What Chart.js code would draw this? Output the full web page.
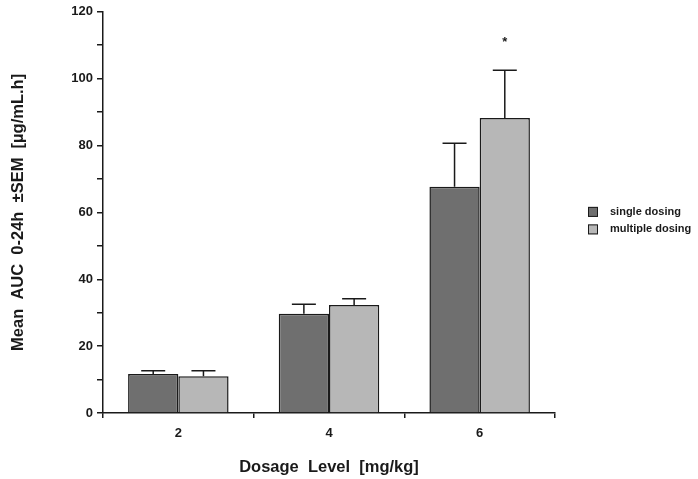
<!DOCTYPE html>
<html>
<head>
<meta charset="utf-8">
<script src="https://cdn.jsdelivr.net/npm/chart.js@4"></script>
<style>
  html, body { margin: 0; padding: 0; background: #fff; }
  #wrap { width: 698px; height: 479px; }
</style>
</head>
<body>
<div id="wrap"><canvas id="chart"></canvas></div>
<script>
// dosage levels on the x axis:
const dosages = ['2', '4', '6'];

// mean AUC 0-24h for each dosing regimen:
const singleMean = [11.7, 29.7, 67.7];
const multipleMean = [11.0, 32.3, 88.2];

// standard error of the mean, drawn as one-sided bars:
const singleSem = [0.9, 2.8, 13.0];
const multipleSem = [1.6, 1.9, 14.3];

// significance marks above the multiple-dosing bars:
const multipleMarks = ['', '', '*'];

const fontFamily = "'Liberation Sans', Arial, Helvetica, sans-serif";
const ink = '#1a1a1a';

// draws the error bars and the significance star:
const errorBars = {
  id: 'errorBars',
  afterDatasetsDraw(chart) {
    const ctx = chart.ctx;
    const yScale = chart.scales.y;
    const sems = [singleSem, multipleSem];
    ctx.save();
    ctx.strokeStyle = ink;
    ctx.lineWidth = 1.5;
    chart.data.datasets.forEach((ds, i) => {
      const meta = chart.getDatasetMeta(i);
      meta.data.forEach((bar, j) => {
        const top = yScale.getPixelForValue(ds.data[j] + sems[i][j]);
        ctx.beginPath();
        ctx.moveTo(bar.x, bar.y);
        ctx.lineTo(bar.x, top);
        ctx.moveTo(bar.x - 12, top);
        ctx.lineTo(bar.x + 12, top);
        ctx.stroke();
        // the star over the 6 mg/kg multiple dose:
        if (i === 1 && multipleMarks[j]) {
          ctx.fillStyle = ink;
          ctx.font = 'bold 13px ' + fontFamily;
          ctx.textAlign = 'center';
          ctx.textBaseline = 'middle';
          ctx.fillText(multipleMarks[j], bar.x, top - 28);
        }
      });
    });
    ctx.restore();
  }
};

// legend to the right of the plot, with square swatches:
const sideLegend = {
  id: 'sideLegend',
  afterDraw(chart) {
    const ctx = chart.ctx;
    const area = chart.chartArea;
    const x = area.right + 33;
    let y = (area.top + area.bottom) / 2 - 0.5;
    ctx.save();
    ctx.font = 'bold 11px ' + fontFamily;
    ctx.textBaseline = 'middle';
    chart.data.datasets.forEach((ds) => {
      ctx.fillStyle = ds.backgroundColor;
      ctx.fillRect(x, y - 5, 10, 10);
      ctx.strokeStyle = ink;
      ctx.lineWidth = 1;
      ctx.strokeRect(x + 0.5, y - 4.5, 9, 9);
      ctx.fillStyle = ink;
      ctx.fillText(ds.label, x + 22, y);
      y += 17.5;
    });
    ctx.restore();
  }
};

const data = {
  labels: dosages,
  datasets: [{
    label: 'single dosing',
    data: singleMean,
    backgroundColor: '#6f6f6f',
    borderColor: ink,
    borderWidth: 1.5
  }, {
    label: 'multiple dosing',
    data: multipleMean,
    backgroundColor: '#b7b7b7',
    borderColor: ink,
    borderWidth: 1.5
  }]
};

const config = {
  type: 'bar',
  data: data,
  plugins: [errorBars, sideLegend],
  options: {
    responsive: true,
    maintainAspectRatio: false,
    animation: false,
    devicePixelRatio: 1,
    layout: {
      padding: { left: 0, right: 143, top: 9, bottom: 0 }
    },
    datasets: {
      bar: {
        categoryPercentage: 0.667,
        barPercentage: 1.0
      }
    },
    plugins: {
      legend: { display: false },
      tooltip: { enabled: false }
    },
    scales: {
      x: {
        afterFit(scale) { scale.height = 66; },
        grid: {
          offset: true,
          drawOnChartArea: false,
          tickLength: 5,
          color: ink,
          lineWidth: 1.5
        },
        border: { color: ink, width: 1.5 },
        ticks: {
          padding: 8,
          color: ink,
          font: { family: fontFamily, size: 13, weight: 'bold' }
        },
        title: {
          display: true,
          text: 'Dosage  Level  [mg/kg]',
          color: ink,
          padding: { top: 0, bottom: 2 },
          font: { family: fontFamily, size: 16.5, weight: 'bold' }
        }
      },
      y: {
        min: 0,
        max: 120,
        afterFit(scale) { scale.width = 103; },
        grid: {
          drawOnChartArea: false,
          tickLength: 6,
          color: ink,
          lineWidth: 1.5
        },
        border: { color: ink, width: 1.5 },
        ticks: {
          stepSize: 10,
          padding: 4,
          color: ink,
          font: { family: fontFamily, size: 13, weight: 'bold' },
          // labels only every 20, minor ticks in between:
          callback: (v) => (v % 20 === 0 ? v : '')
        },
        title: {
          display: true,
          text: 'Mean  AUC  0-24h  \u00b1SEM  [\u00b5g/mL.h]',
          color: ink,
          padding: { top: 9, bottom: 0 },
          font: { family: fontFamily, size: 16.5, weight: 'bold' }
        }
      }
    }
  }
};

const chart = new Chart(document.getElementById('chart'), config);
</script>
</body>
</html>
